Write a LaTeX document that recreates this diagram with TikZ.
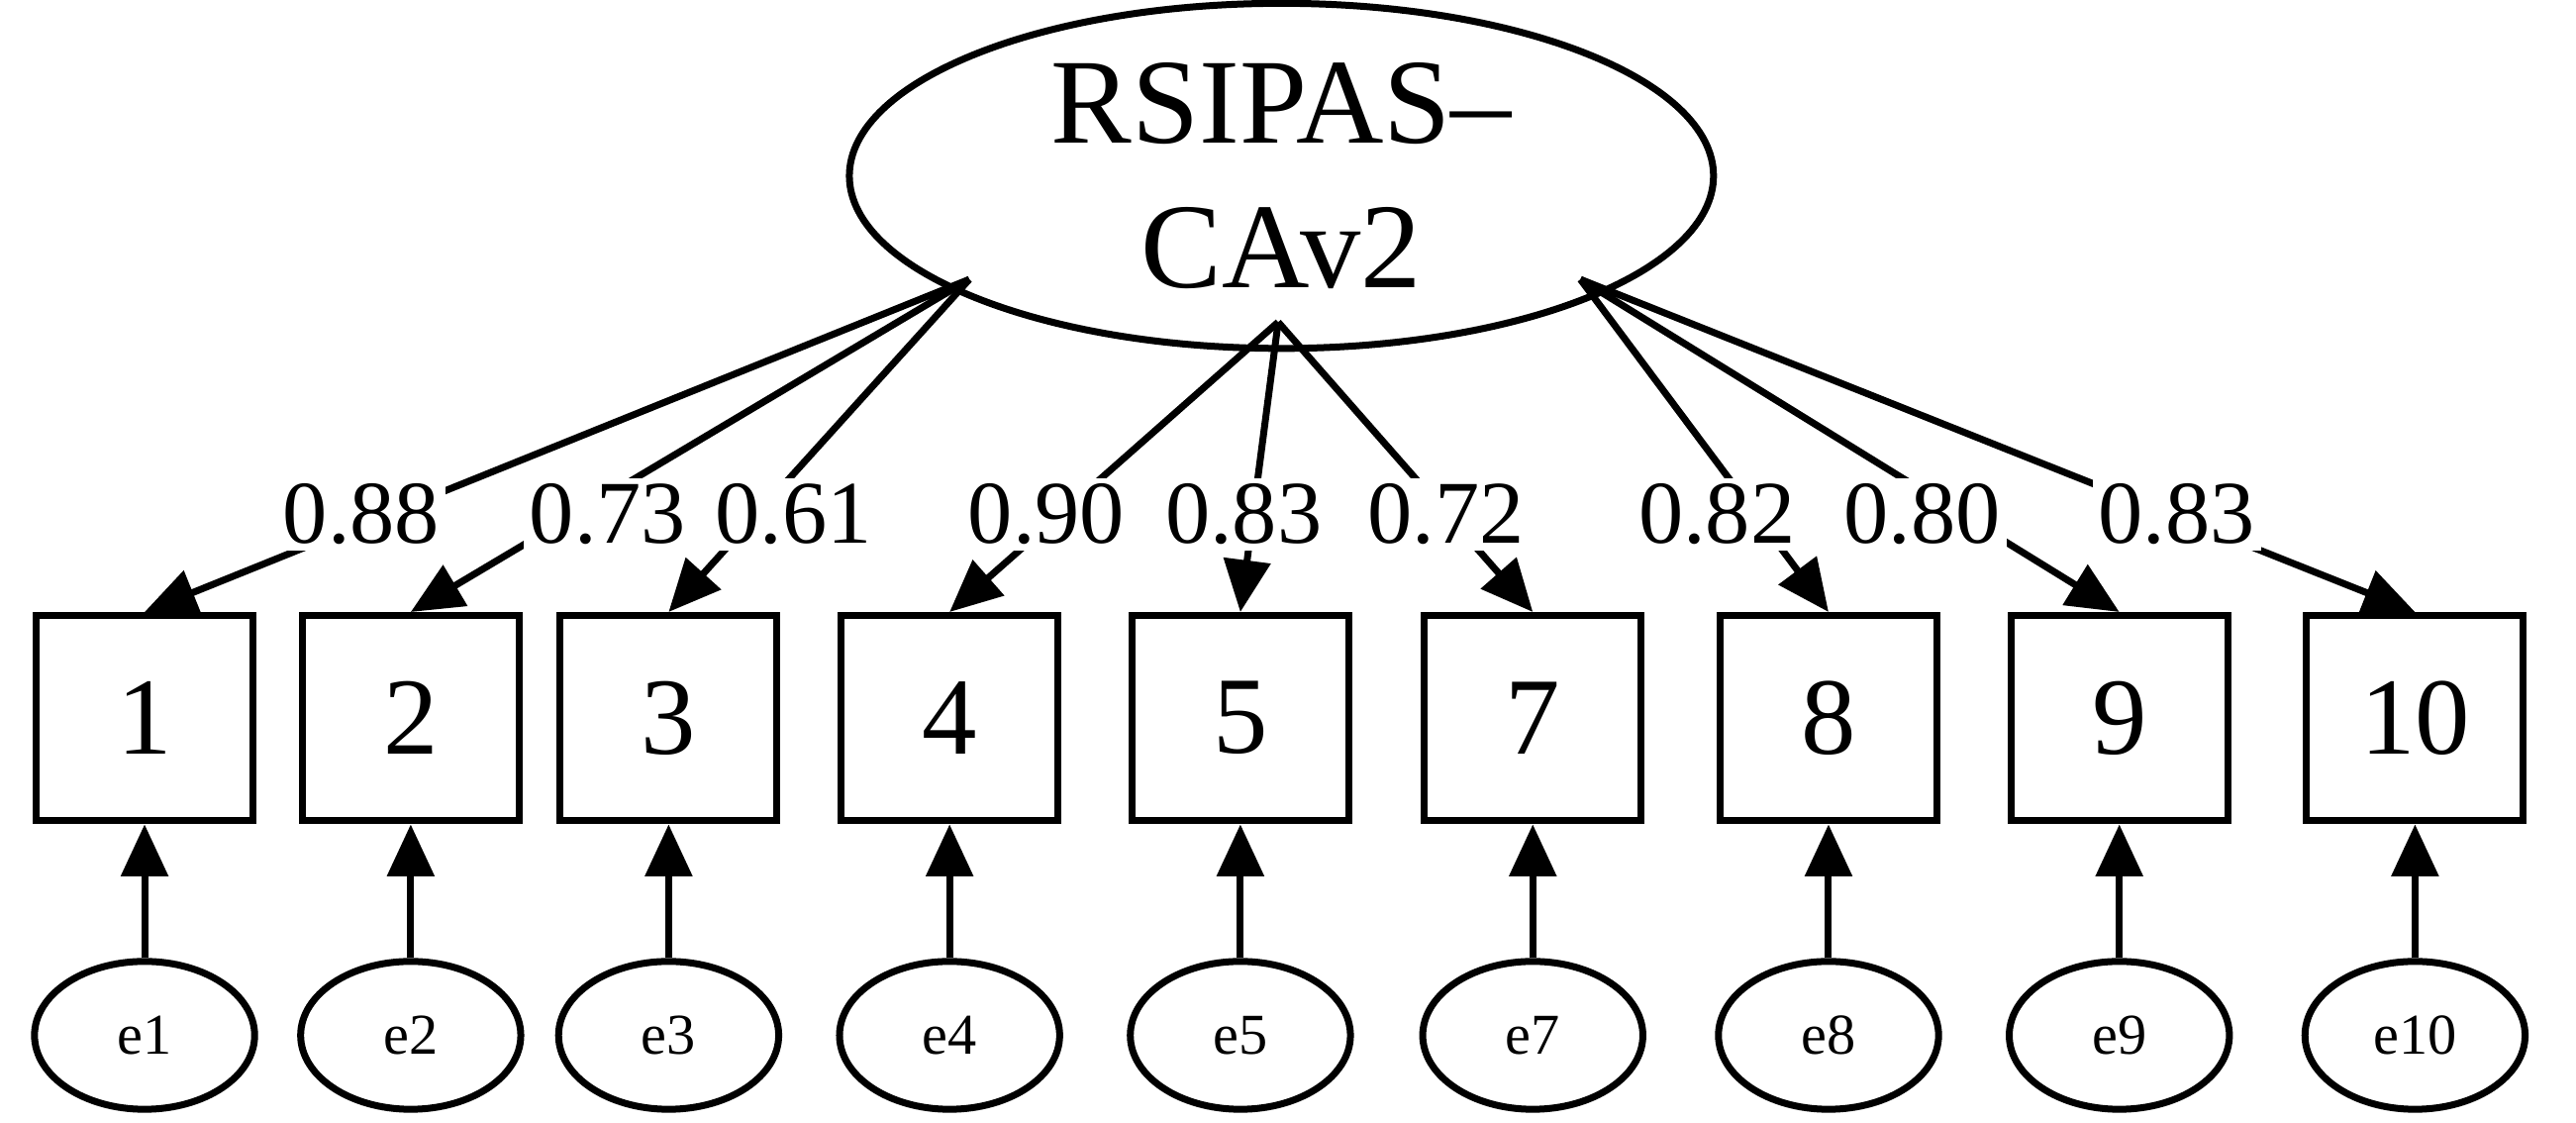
\documentclass[tikz,border=0pt]{standalone}
\usepackage{fontspec}
\setmainfont{Liberation Serif}
\usetikzlibrary{shapes.geometric,arrows.meta}
\begin{document}
\begin{tikzpicture}[x=1cm,y=-1cm,
  box/.style={draw,line width=1.2pt,minimum width=1.32cm,minimum height=1.25cm,font=\fontsize{19}{21}\selectfont},
  err/.style={draw,ellipse,line width=1.2pt,minimum width=1.34cm,minimum height=0.9cm,font=\fontsize{10}{12}\selectfont},
  lab/.style={fill=white,inner sep=1pt,font=\fontsize{15.5}{17}\selectfont},
  arr/.style={line width=1.2pt,-{Triangle[length=9pt,width=8pt]}}]
\useasboundingbox (0,0) rectangle (15.68,6.83);
\node[draw,ellipse,line width=1.2pt,inner sep=0pt,minimum width=5.26cm,minimum height=2.1cm,align=center,font=\fontsize{21}{25}\selectfont] (F) at (7.8,1.07) {RSIPAS–\\CAv2};
\coordinate (L) at (5.9,1.7);
\coordinate (M) at (7.78,1.96);
\coordinate (R) at (9.62,1.7);
\foreach \n/\x/\s/\v/\lx in {1/0.88/L/0.88/2.2, 2/2.5/L/0.73/3.7, 3/4.07/L/0.61/4.83, 4/5.78/M/0.90/6.37, 5/7.55/M/0.83/7.57, 7/9.33/M/0.72/8.8, 8/11.13/R/0.82/10.45, 9/12.9/R/0.80/11.7, 10/14.7/R/0.83/13.25}{
  \node[box] (b\n) at (\x,4.37) {\n};
  \node[err] (e\n) at (\x,6.3) {e\n};
  \draw[arr] (e\n) -- (b\n);
  \draw[arr] (\s) -- (b\n.north);
  \node[lab] at (\lx,3.13) {\v};
}
\end{tikzpicture}
\end{document}
